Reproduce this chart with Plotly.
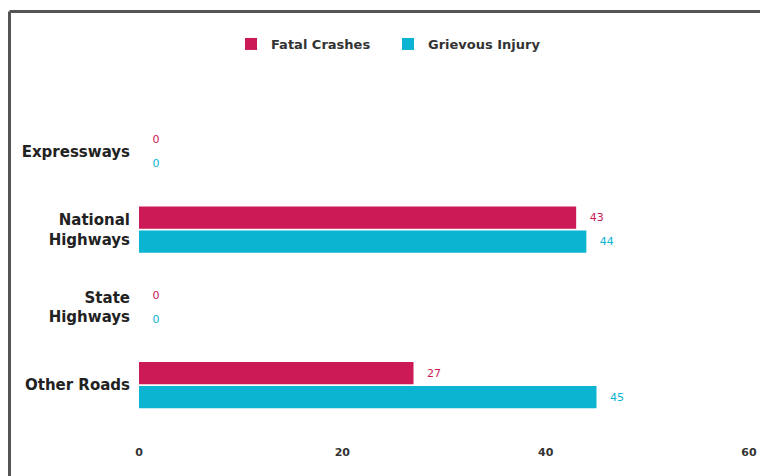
import plotly.graph_objects as go

categories = ["Expressways", "National<br>Highways", "State<br>Highways", "Other Roads"]
fatal_crashes = [0, 43, 0, 27]
grievous_injury = [0, 44, 0, 45]
x_ticks = [0, 20, 40, 60]

FATAL = "#CB1A55"
GRIEV = "#0BB4D1"
FONT = "DejaVu Sans"

W, H = 760, 468
L, R, T, B = 131, 19, 105, 52
PW, PH = W - L - R, H - T - B

fig = go.Figure()
fig.add_trace(go.Bar(
    y=categories, x=fatal_crashes, orientation="h", name="Fatal Crashes",
    marker=dict(color=FATAL, line=dict(width=0)),
    text=fatal_crashes, texttemplate="   %{x}", textposition="outside",
    textfont=dict(color=FATAL, size=11, family=FONT), cliponaxis=False,
))
fig.add_trace(go.Bar(
    y=categories, x=grievous_injury, orientation="h", name="Grievous Injury",
    marker=dict(color=GRIEV, line=dict(width=0)),
    text=grievous_injury, texttemplate="   %{x}", textposition="outside",
    textfont=dict(color=GRIEV, size=11, family=FONT), cliponaxis=False,
))

top_y = (H - B - 3.5) / PH
left_x = (1.5 - L) / PW
fig.update_layout(
    width=W, height=H,
    margin=dict(l=L, r=R, t=T, b=B),
    paper_bgcolor="white", plot_bgcolor="white",
    barmode="group", bargap=0.38, bargroupgap=0.08,
    font=dict(family=FONT, color="#333333"),
    showlegend=True,
    legend=dict(orientation="h", x=(223 - L) / PW, xanchor="left",
                y=(H - B - 36) / PH, yanchor="middle",
                font=dict(size=13, color="#333333", family=FONT, weight="bold"),
                entrywidth=112, traceorder="normal"),
    xaxis=dict(range=[0, 60], tickvals=x_ticks, showgrid=False, zeroline=False,
               showline=False, ticks="", tickfont=dict(size=11, color="#333333", weight="bold"),
               ticklabelstandoff=20),
    yaxis=dict(autorange="reversed", showgrid=False, zeroline=False, showline=False,
               ticks="", tickfont=dict(size=15, color="#222222", family=FONT, weight="bold"),
               ticklabelstandoff=8),
    shapes=[
        dict(type="line", xref="paper", yref="paper", x0=left_x, x1=(W + 10 - L) / PW,
             y0=top_y, y1=top_y, line=dict(color="#555555", width=3)),
        dict(type="line", xref="paper", yref="paper", x0=left_x, x1=left_x,
             y0=top_y, y1=-(B + 10) / PH, line=dict(color="#555555", width=3)),
    ],
)

fig.write_html("out.html")
